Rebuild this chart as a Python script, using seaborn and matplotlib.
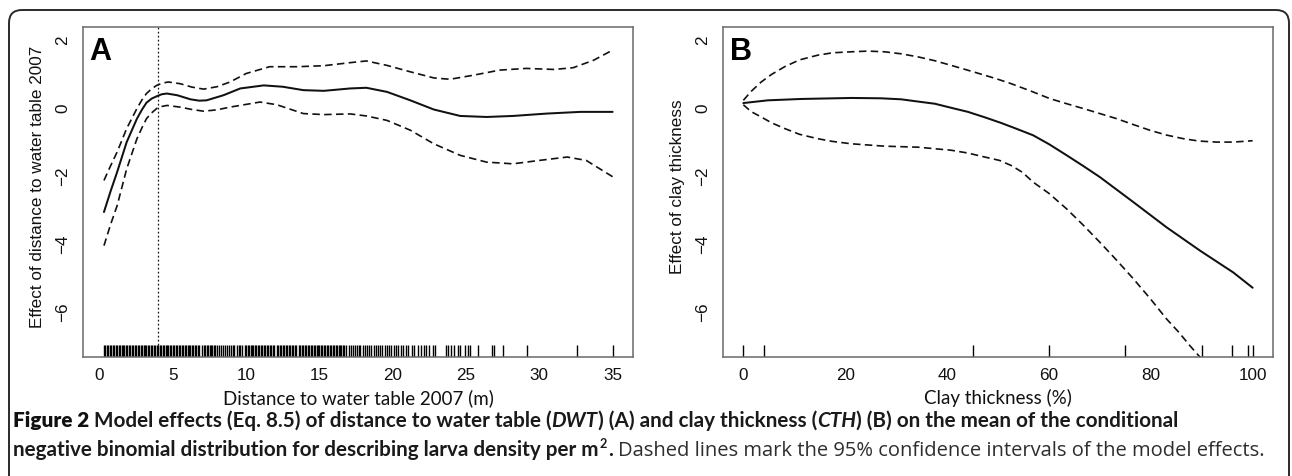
import matplotlib
matplotlib.use("Agg")
import matplotlib.pyplot as plt
from matplotlib.patches import FancyBboxPatch
from matplotlib.transforms import IdentityTransform
import seaborn as sns

# ---- Panel A: distance to water table 2007 (m) ----
dwt_fit_x = [0.3, 0.75, 1.2, 1.85, 2.55, 2.9, 3.2, 3.55, 3.9, 4.25, 4.6, 5.3, 6.2, 6.8, 7.3, 8.45,
             9.6, 11.2, 12.5, 13.9, 15.3, 17.1, 18.2, 19.6, 21.2, 22.8, 24.6, 26.4, 28.2, 30.5,
             32.8, 35.0]
dwt_fit_y = [-3.09, -2.48, -1.91, -1.03, -0.34, -0.07, 0.13, 0.25, 0.32, 0.38, 0.40, 0.35, 0.23,
             0.19, 0.20, 0.35, 0.55, 0.64, 0.60, 0.50, 0.48, 0.55, 0.57, 0.45, 0.20, -0.07, -0.26,
             -0.29, -0.26, -0.19, -0.14, -0.14]

dwt_upper_x = [0.3, 0.75, 1.2, 1.85, 2.55, 2.9, 3.2, 3.55, 3.9, 4.3, 4.7, 5.5, 6.3, 7.1, 8.0, 8.9,
               10.0, 11.6, 13.45, 15.3, 17.1, 18.2, 19.6, 21.2, 22.8, 23.9, 25.5, 27.3, 29.1,
               31.0, 32.3, 33.7, 35.0]
dwt_upper_y = [-2.16, -1.73, -1.32, -0.63, -0.04, 0.22, 0.40, 0.54, 0.64, 0.71, 0.74, 0.69, 0.59,
               0.53, 0.60, 0.74, 0.99, 1.19, 1.19, 1.22, 1.31, 1.36, 1.23, 1.04, 0.86, 0.82, 0.94,
               1.09, 1.14, 1.11, 1.16, 1.38, 1.68]

dwt_lower_x = [0.3, 0.75, 1.2, 1.85, 2.55, 2.9, 3.2, 3.55, 3.9, 4.25, 4.6, 5.5, 6.3, 7.1, 8.0, 8.9,
               10.95, 12.1, 13.9, 15.3, 17.1, 18.2, 19.6, 21.2, 22.8, 24.6, 26.4, 28.2, 30.0,
               31.9, 33.2, 35.0]
dwt_lower_y = [-4.08, -3.46, -2.90, -1.82, -0.93, -0.60, -0.34, -0.17, -0.04, 0.02, 0.05, 0.00,
               -0.07, -0.12, -0.08, 0.00, 0.15, 0.07, -0.19, -0.22, -0.20, -0.26, -0.39, -0.68,
               -1.08, -1.42, -1.62, -1.67, -1.57, -1.47, -1.57, -2.05]

dwt_threshold = 4.0

# observed distances (rug)
dwt_obs = [
    0.3, 0.4, 0.5, 0.6, 0.7, 0.8, 0.9, 1.0, 1.1, 1.2, 1.3, 1.4, 1.5, 1.6, 1.7, 1.8, 1.9, 2.0,
    2.1, 2.2, 2.3, 2.4, 2.5, 2.6, 2.7, 2.8, 2.9, 3.0, 3.1, 3.2, 3.3, 3.4, 3.5, 3.6, 3.7, 3.8,
    3.9, 4.0, 4.1, 4.2, 4.3, 4.4, 4.5, 4.6, 4.7, 4.8, 4.9, 5.0, 5.1, 5.2, 5.3, 5.4, 5.5, 5.6,
    5.7, 5.8, 5.9, 6.0, 6.1, 6.2, 6.3, 6.4, 6.5, 6.6, 6.7, 6.8,
    7.0, 7.1, 7.2, 7.3, 7.4, 7.5, 7.6, 7.7, 7.8, 7.9, 8.0, 8.15, 8.3, 8.4, 8.55, 8.7, 8.8,
    8.95, 9.1, 9.2, 9.35, 9.5, 9.6, 9.7,
    9.9, 10.0, 10.1, 10.2, 10.3, 10.4, 10.5, 10.6, 10.7, 10.8, 10.9, 11.0, 11.1, 11.2, 11.3,
    11.4, 11.5, 11.6, 11.7, 11.8, 11.9,
    12.1, 12.2, 12.3, 12.4, 12.5, 12.6, 12.7, 12.8, 12.9, 13.0, 13.1, 13.2, 13.3, 13.4,
    13.6, 13.7, 13.8, 13.9, 14.0, 14.1, 14.2, 14.3, 14.4, 14.5, 14.6, 14.7, 14.8, 14.9, 15.0,
    15.1, 15.2, 15.3, 15.4, 15.5, 15.6, 15.7, 15.8, 15.9, 16.0, 16.1, 16.2, 16.3, 16.4, 16.5,
    16.6, 16.7, 16.8,
    17.0, 17.15, 17.3, 17.4, 17.55, 17.7, 17.8, 17.95, 18.1, 18.25, 18.4, 18.5, 18.7, 18.85,
    19.0, 19.1, 19.3, 19.45, 19.6, 19.75, 19.9, 20.1, 20.2, 20.35, 20.55, 20.7, 20.9, 21.05,
    21.3, 21.45, 21.7, 21.9, 22.1, 22.3, 22.5, 22.75, 22.9,
    23.6, 23.8, 24.0, 24.2, 24.45, 24.6, 24.9, 25.1, 25.25,
    25.85, 26.75, 26.9, 27.55, 29.15, 32.55, 35.0,
]

# ---- Panel B: clay thickness (%) ----
cth_fit_x = [0, 4.8, 11.3, 21.2, 27.0, 31.0, 35.0, 37.6, 40.0, 44.1, 47.4, 50.5, 53.5, 56.9, 60.0,
             63.5, 66.7, 70.0, 76.6, 83.1, 89.7, 96.2, 100]
cth_fit_y = [0.12, 0.20, 0.24, 0.27, 0.26, 0.23, 0.15, 0.10, 0.01, -0.14, -0.30, -0.46, -0.63,
             -0.83, -1.09, -1.42, -1.73, -2.06, -2.80, -3.54, -4.23, -4.87, -5.32]

cth_upper_x = [0, 1.5, 3.5, 5.5, 8.1, 11.0, 14.6, 17.5, 21.2, 24.5, 27.7, 31.0, 34.3, 37.5, 40.8,
               44.0, 47.4, 50.0, 52.6, 56.5, 60.2, 63.5, 66.7, 70.0, 73.3, 76.5, 79.8, 83.0,
               86.4, 89.5, 93.0, 96.2, 100]
cth_upper_y = [0.20, 0.46, 0.74, 0.96, 1.19, 1.39, 1.53, 1.60, 1.63, 1.65, 1.63, 1.57, 1.48,
               1.37, 1.23, 1.09, 0.94, 0.82, 0.69, 0.47, 0.25, 0.10, -0.04, -0.19, -0.34, -0.51,
               -0.68, -0.82, -0.93, -1.00, -1.03, -1.03, -0.99]

cth_lower_x = [0, 1.5, 3.5, 5.5, 8.1, 11.0, 14.6, 17.5, 21.2, 27.7, 34.3, 40.8, 44.0, 47.4, 50.3,
               52.6, 54.8, 56.9, 60.0, 63.5, 66.7, 70.0, 73.3, 76.6, 80.0, 83.1, 85.5, 87.7,
               89.7, 95.0, 100]
cth_lower_y = [0.07, -0.13, -0.29, -0.46, -0.63, -0.80, -0.93, -1.01, -1.08, -1.15, -1.18, -1.27,
               -1.35, -1.47, -1.57, -1.72, -1.92, -2.21, -2.54, -3.00, -3.47, -3.98, -4.51,
               -5.06, -5.66, -6.24, -6.63, -7.03, -7.37, -8.50, -9.70]

cth_obs = [0, 4, 45, 60, 75, 90, 96, 99, 100]

# ---- axis text ----
panel_letters = ["A", "B"]
x_labels = ["Distance to water table 2007 (m)", "Clay thickness (%)"]
y_labels = ["Effect of distance to water table 2007", "Effect of clay thickness"]
x_ticks = [[0, 5, 10, 15, 20, 25, 30, 35], [0, 20, 40, 60, 80, 100]]
y_ticks = [-6, -4, -2, 0, 2]

sns.set_theme(style="white")
plt.rcParams["font.family"] = ["Liberation Sans", "DejaVu Sans"]
plt.rcParams["axes.unicode_minus"] = True

W, H = 1292, 477
fig = plt.figure(figsize=(W / 100, H / 100), dpi=100)
renderer = fig.canvas.get_renderer()


def text_width(s, **kw):
    t = fig.text(0, 0, "|" + s + "|", **kw)
    w1 = t.get_window_extent(renderer).width
    t.set_text("||")
    w0 = t.get_window_extent(renderer).width
    t.remove()
    return w1 - w0


def add_axes_px(left, top, right, bottom):
    return fig.add_axes([left / W, 1 - bottom / H, (right - left) / W, (bottom - top) / H])


axA = add_axes_px(83, 28, 633, 358)
axB = add_axes_px(723, 28, 1273, 358)

solid = dict(color="#111111", lw=1.45, estimator=None)
dashed = dict(color="#111111", lw=1.2, estimator=None, linestyle=(0, (4.5, 2.6)))

sns.lineplot(x=dwt_fit_x, y=dwt_fit_y, ax=axA, **solid)
sns.lineplot(x=dwt_upper_x, y=dwt_upper_y, ax=axA, **dashed)
sns.lineplot(x=dwt_lower_x, y=dwt_lower_y, ax=axA, **dashed)
axA.axvline(dwt_threshold, color="#111111", lw=0.9, linestyle=(0, (1.4, 1.8)))
sns.rugplot(x=dwt_obs, ax=axA, height=0.036, color="black", lw=1.8, expand_margins=False)

sns.lineplot(x=cth_fit_x, y=cth_fit_y, ax=axB, **solid)
sns.lineplot(x=cth_upper_x, y=cth_upper_y, ax=axB, **dashed)
sns.lineplot(x=cth_lower_x, y=cth_lower_y, ax=axB, **dashed)
sns.rugplot(x=cth_obs, ax=axB, height=0.036, color="black", lw=1.3, expand_margins=False)

xlims = [(-1.13, 36.39), (-4.0, 104.0)]
label_font = ["Lato", "DejaVu Sans"]
for i, ax in enumerate([axA, axB]):
    ax.set_xlim(*xlims[i])
    ax.set_ylim(-7.36, 2.36)
    ax.set_xticks(x_ticks[i])
    ax.set_xticklabels([str(v) for v in x_ticks[i]])
    ax.set_yticks(y_ticks)
    ax.set_yticklabels(["\u2212" + str(-v) if v < 0 else str(v) for v in y_ticks],
                       rotation=90, va="center")
    ax.tick_params(axis="both", which="major", direction="out", length=5, width=1.0,
                   color="#555555", labelcolor="#111111", labelsize=12.3)
    ax.tick_params(axis="y", pad=4)
    ax.tick_params(axis="x", pad=2)
    for sp in ax.spines.values():
        sp.set_visible(True)
        sp.set_color("#6a6a6a")
        sp.set_linewidth(1.1)
    ax.set_xlabel(x_labels[i], fontsize=13.5, family=label_font, color="#111111", va="center")
    ax.xaxis.set_label_coords(0.5, -0.121)
    ax.set_ylabel(y_labels[i], fontsize=12.3, color="#111111", va="center")
    ax.yaxis.set_label_coords(-0.083, 0.518)
    ax.text(0.012, 0.972, panel_letters[i], transform=ax.transAxes, ha="left", va="top",
            fontsize=22, fontweight="bold", color="black")

# rounded frame around the figure
frame = FancyBboxPatch((9, -30), 1280, 466 + 30, boxstyle="round,pad=0,rounding_size=13",
                       transform=IdentityTransform(), fill=False, ec="#2a2a2a", lw=1.4)
fig.add_artist(frame)

# ---- caption ----
cap_font = ["Lato", "DejaVu Sans"]
plain_font = ["Open Sans", "DejaVu Sans"]
bold = dict(family=cap_font, weight="heavy", color="#111111")
semi = dict(family=cap_font, weight="bold", color="#1a1a1a")
semi_it = dict(family=cap_font, weight="bold", style="italic", color="#1a1a1a")
plain = dict(family=plain_font, weight="normal", color="#2e2e2e")

line1 = [("Figure 2 ", bold), ("Model effects (Eq. 8.5) of distance to water table (", semi),
         ("DWT", semi_it), (") (A) and clay thickness (", semi), ("CTH", semi_it),
         (") (B) on the mean of the conditional", semi)]
line2a = [("negative binomial distribution for describing larva density per m", semi)]
line2b = [("Dashed lines mark the 95% confidence intervals of the model effects.", plain)]


def runs_width(runs, size):
    return sum(text_width(s, fontsize=size, **kw) for s, kw in runs)


cap_size = 10 * (1166 / runs_width(line1, 10))


def draw_runs(runs, x, y, size):
    for s, kw in runs:
        fig.text(x, y, s, transform=IdentityTransform(), ha="left", va="baseline",
                 fontsize=size, **kw)
        x += text_width(s, fontsize=size, **kw)
    return x


draw_runs(line1, 13, H - 427, cap_size)
x_end = draw_runs(line2a, 13, H - 456, cap_size)
x_end = draw_runs([("2", semi)], x_end + 1, H - 456 + 8, cap_size * 0.62)
x_end = draw_runs([(".", semi)], x_end + 1, H - 456, cap_size)
x_start = x_end + text_width(" ", fontsize=cap_size, **semi)
plain_size = 10 * ((1266 - x_start) / runs_width(line2b, 10))
draw_runs(line2b, x_start, H - 456, plain_size)

fig.savefig("out.png", dpi=100)
